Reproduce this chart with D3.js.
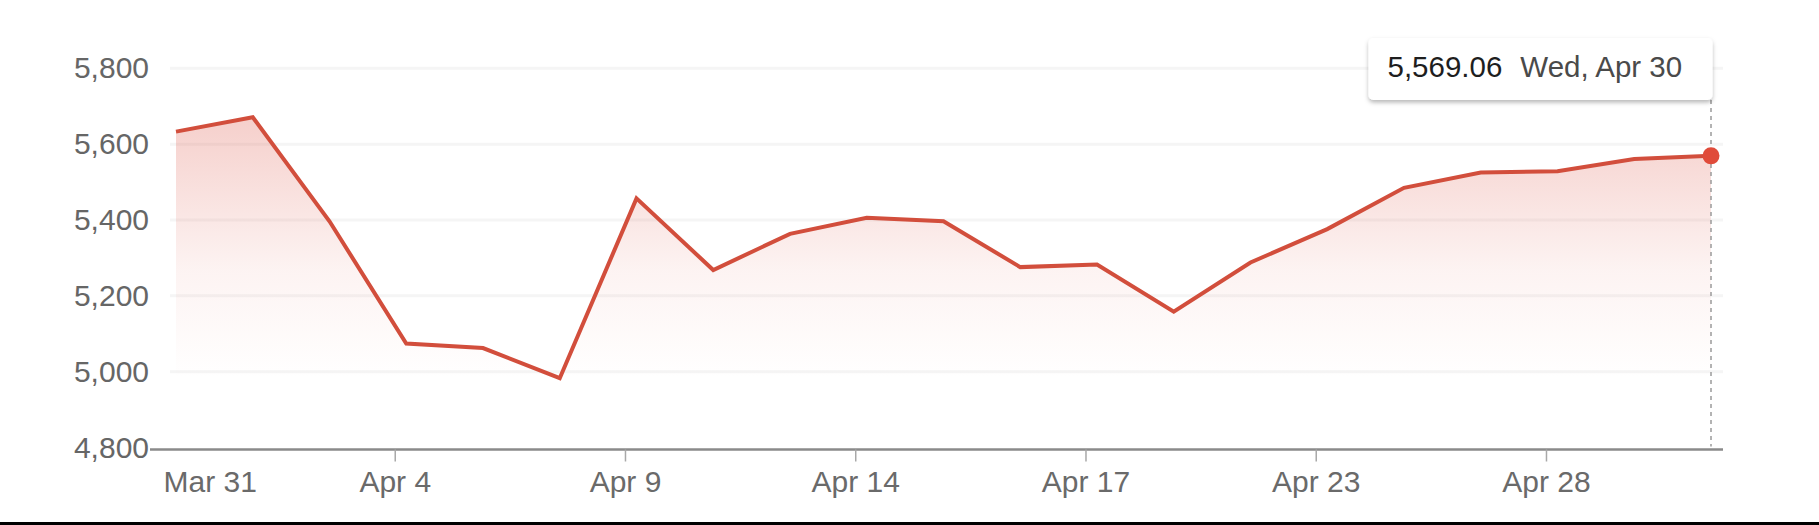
<!DOCTYPE html>
<html>
<head>
<meta charset="utf-8">
<script src="https://cdn.jsdelivr.net/npm/d3@7/dist/d3.min.js"></script>
<style>
  html, body { margin: 0; padding: 0; background: #fff; }
  svg { display: block; font-family: "Liberation Sans", Arial, Helvetica, sans-serif; }
</style>
</head>
<body>
<svg id="chart" width="1819" height="525"></svg>
<script>
// ---- data ----
const dates = ["Tue, Apr 1","Wed, Apr 2","Thu, Apr 3","Fri, Apr 4","Mon, Apr 7","Tue, Apr 8","Wed, Apr 9",
  "Thu, Apr 10","Fri, Apr 11","Mon, Apr 14","Tue, Apr 15","Wed, Apr 16","Thu, Apr 17","Mon, Apr 21",
  "Tue, Apr 22","Wed, Apr 23","Thu, Apr 24","Fri, Apr 25","Mon, Apr 28","Tue, Apr 29","Wed, Apr 30"];
const values = [5633.07, 5670.97, 5396.52, 5074.08, 5062.25, 4982.77, 5456.90,
  5268.05, 5363.36, 5405.97, 5396.63, 5275.70, 5282.70, 5158.20,
  5287.76, 5375.86, 5484.77, 5525.21, 5528.75, 5560.83, 5569.06];
const tickLabels = ["Mar 31","Apr 4","Apr 9","Apr 14","Apr 17","Apr 23","Apr 28"];
const tickIndex = [0, 3, 6, 9, 12, 15, 18];
const yTicks = [4800, 5000, 5200, 5400, 5600, 5800];

// ---- layout ----
const svg = d3.select("#chart");
const x = d3.scaleLinear().domain([0, values.length - 1]).range([176, 1711]);
const xTick = d3.scaleLinear().domain([0.15, values.length - 1 + 0.15]).range([176, 1711]);
const y = d3.scaleLinear().domain([4800, 5800]).range([447.5, 68.3]);
const axisY = 449.5;
const gridLeft = 170, gridRight = 1723;

// gradient
const defs = svg.append("defs");
const grad = defs.append("linearGradient").attr("id", "areaGrad")
  .attr("gradientUnits", "userSpaceOnUse")
  .attr("x1", 0).attr("x2", 0).attr("y1", y(5690)).attr("y2", y(4980));
grad.append("stop").attr("offset", "0%").attr("stop-color", "#de5a4c").attr("stop-opacity", 0.30);
grad.append("stop").attr("offset", "60%").attr("stop-color", "#de5a4c").attr("stop-opacity", 0.07);
grad.append("stop").attr("offset", "100%").attr("stop-color", "#de5a4c").attr("stop-opacity", 0);

const shadow = defs.append("filter").attr("id", "shadow")
  .attr("x", "-10%").attr("y", "-20%").attr("width", "120%").attr("height", "160%");
shadow.append("feDropShadow").attr("dx", 0).attr("dy", 2.5).attr("stdDeviation", 2.2)
  .attr("flood-color", "#000").attr("flood-opacity", 0.28);

// gridlines
svg.append("g").selectAll("line").data(yTicks.filter(d => d > 4800)).join("line")
  .attr("x1", gridLeft).attr("x2", gridRight)
  .attr("y1", d => y(d)).attr("y2", d => y(d))
  .attr("stroke", "#f5f5f5").attr("stroke-width", 3);

// y axis labels
const gy = svg.append("g").attr("transform", "translate(149,0)")
  .call(d3.axisLeft(y).tickValues(yTicks).tickFormat(d3.format(",")).tickSize(0).tickPadding(0));
gy.select(".domain").remove();
gy.selectAll("text").attr("fill", "#666").style("font-size", "30px")
  .style("font-family", "'Liberation Sans', Arial, sans-serif");

// area + line
const idx = d3.range(values.length);
svg.append("path").datum(idx)
  .attr("d", d3.area().x(i => x(i)).y0(axisY).y1(i => y(values[i])))
  .attr("fill", "url(#areaGrad)");
svg.append("path").datum(idx)
  .attr("d", d3.line().x(i => x(i)).y(i => y(values[i])))
  .attr("fill", "none").attr("stroke", "#d24e3c").attr("stroke-width", 4)
  .attr("stroke-linejoin", "miter");

// x axis line
svg.append("line").attr("x1", 150).attr("x2", gridRight)
  .attr("y1", axisY).attr("y2", axisY)
  .attr("stroke", "#8a8a8a").attr("stroke-width", 2.5);

// x axis ticks
const gx = svg.append("g").attr("transform", `translate(0,${axisY})`)
  .call(d3.axisBottom(xTick).tickValues(tickIndex.slice(1))
    .tickFormat(d => tickLabels[tickIndex.indexOf(d)]).tickSize(12).tickPadding(0));
gx.select(".domain").remove();
gx.selectAll(".tick line").attr("stroke", "#a8a8a8").attr("stroke-width", 1.5);
gx.selectAll("text").attr("y", 42.5).attr("dy", 0).attr("fill", "#6a6a6a")
  .style("font-size", "30px").style("font-family", "'Liberation Sans', Arial, sans-serif");
// first label (no tick mark), left-aligned
svg.append("text").attr("x", xTick(tickIndex[0]) - 1).attr("y", axisY + 42.5)
  .attr("text-anchor", "start").attr("fill", "#6a6a6a").style("font-size", "30px")
  .text(tickLabels[0]);

// hover marker on last point
const last = values.length - 1;
const lx = x(last);
const boxRight = lx + 1.5, boxLeft = boxRight - 344, boxTop = 38, boxBottom = 100;
svg.append("line").attr("x1", lx).attr("x2", lx).attr("y1", boxBottom).attr("y2", axisY - 3)
  .attr("stroke", "#9a9a9a").attr("stroke-width", 1.5).attr("stroke-dasharray", "4,4");
svg.append("circle").attr("cx", lx).attr("cy", y(values[last])).attr("r", 8.5)
  .attr("fill", "#e04b3a");

// tooltip
svg.append("rect").attr("x", boxLeft).attr("y", boxTop)
  .attr("width", boxRight - boxLeft).attr("height", boxBottom - boxTop)
  .attr("rx", 5).attr("fill", "#fff").attr("filter", "url(#shadow)");
const tt = svg.append("text").attr("x", boxLeft + 19).attr("y", 77)
  .style("font-size", "29.5px");
tt.append("tspan").attr("fill", "#1e1e1e").text(d3.format(",.2f")(values[last]));
tt.append("tspan").attr("dx", 18).attr("fill", "#4a4a4a").text(dates[last]);

// bottom border
svg.append("rect").attr("x", 0).attr("y", 522).attr("width", 1819).attr("height", 3).attr("fill", "#000");
</script>
</body>
</html>
